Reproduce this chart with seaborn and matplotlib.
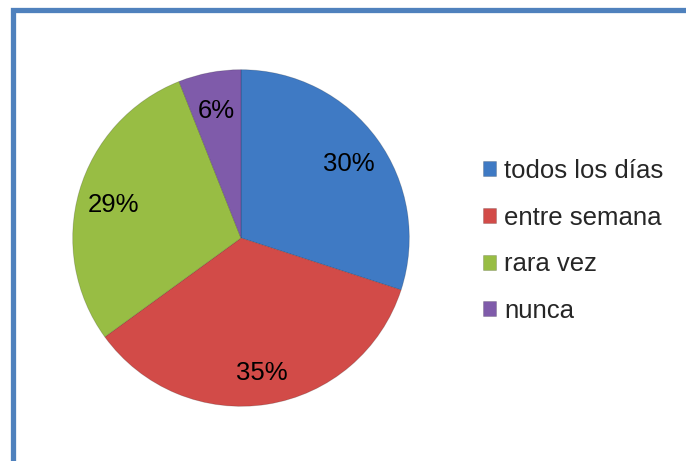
import matplotlib
matplotlib.use("Agg")
import matplotlib.pyplot as plt
import seaborn as sns
from matplotlib.patches import Rectangle
from matplotlib.transforms import offset_copy

# chart data
categories = ["todos los días", "entre semana", "rara vez", "nunca"]
percents = [30, 35, 29, 6]
colors = ["#3f7ac4", "#d24b48", "#98bd44", "#7f5baa"]

sns.set_theme(style="white")
plt.rcParams["font.family"] = ["Liberation Sans", "DejaVu Sans"]

W, H = 686, 461
fig = plt.figure(figsize=(W / 100, H / 100), dpi=100)

# pie area: centre ~ (241, 238), radius ~170 px
cx, cy, r = 241, 238, 170
ax = fig.add_axes([(cx - r) / W, (H - cy - r) / H, 2 * r / W, 2 * r / H])
wedges, texts, autotexts = ax.pie(
    percents,
    colors=colors,
    startangle=90,
    counterclock=False,
    autopct="%d%%",
    pctdistance=0.79,
    radius=1.0,
    wedgeprops=dict(edgecolor="#00000030", linewidth=0.6),
    textprops=dict(fontsize=18.5, color="black"),
)
# nudge labels down a little, like the original
for t in autotexts:
    t.set_transform(offset_copy(t.get_transform(), fig=fig, x=0, y=-4, units="dots"))

ax.set_xlim(-1.01, 1.01)
ax.set_ylim(-1.01, 1.01)
ax.set_aspect("equal")
ax.axis("off")

leg = fig.legend(
    wedges, categories,
    loc="center left",
    bbox_to_anchor=(470 / W, 1 - 241 / H),
    frameon=False,
    fontsize=18.5,
    handlelength=0.52,
    handleheight=0.52,
    handletextpad=0.3,
    labelspacing=0.88,
    borderpad=0,
)

# blue frame around the chart (cropped at right/bottom)
fig.patches.append(Rectangle((12.5 / W, -0.05), 1.1, 1 - 10.5 / H + 0.05,
                             transform=fig.transFigure, fill=False,
                             edgecolor="#4f81bd", linewidth=3.8))

fig.savefig("out.png", dpi=100)
